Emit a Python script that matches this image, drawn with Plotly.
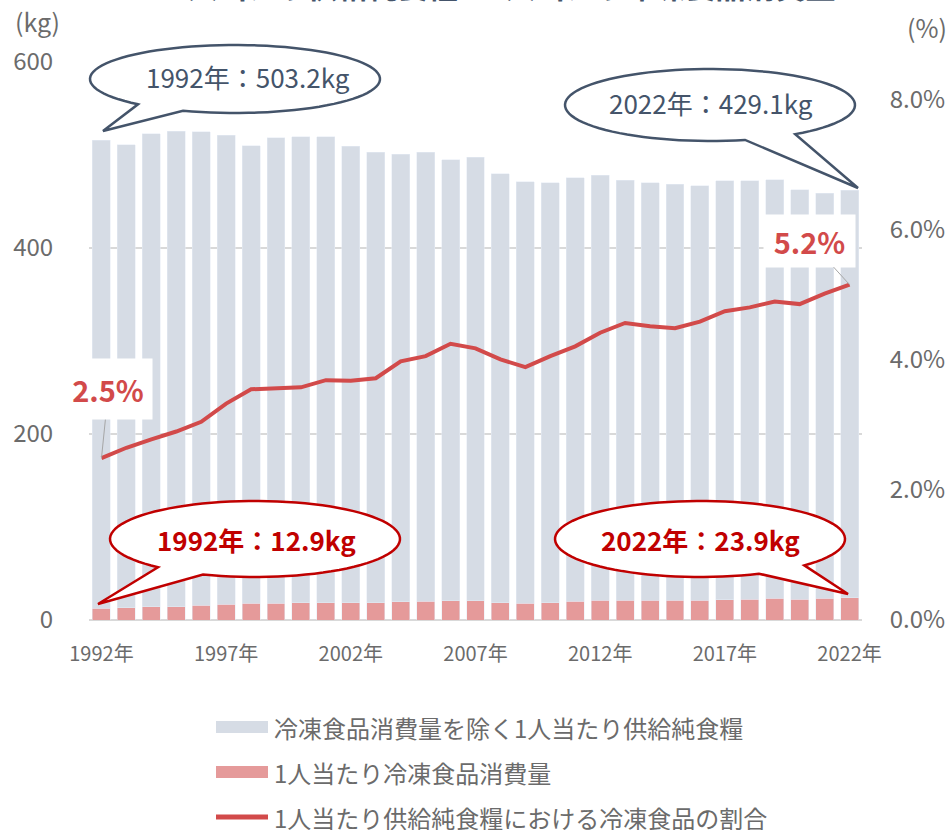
import math
import plotly.graph_objects as go

# data
years = list(range(1992, 2023))
year_labels = [f"{y}年" for y in years]
net_food_ex_frozen = [503.2, 497.7, 508.4, 511.0, 509.5, 504.1, 492.2, 500.4, 501.2, 500.9,
                      490.8, 484.7, 481.1, 483.0, 474.3, 476.8, 461.1, 453.1, 451.5, 455.4,
                      457.1, 452.1, 448.9, 447.8, 445.7, 450.4, 450.0, 450.3, 440.3, 435.6, 438.1]
frozen_food = [12.9, 13.1, 14.2, 14.5, 15.6, 17.1, 17.8, 18.2, 18.5, 18.5,
               18.5, 18.5, 19.6, 19.9, 20.7, 20.7, 18.8, 18.2, 18.8, 19.9,
               21.0, 21.0, 21.0, 21.0, 21.0, 21.7, 22.4, 23.2, 22.4, 23.2, 23.9]
frozen_share = [2.49, 2.65, 2.78, 2.90, 3.05, 3.33, 3.55, 3.56, 3.58, 3.69,
                3.68, 3.72, 3.98, 4.06, 4.25, 4.18, 4.01, 3.89, 4.06, 4.21,
                4.42, 4.57, 4.52, 4.49, 4.59, 4.75, 4.81, 4.90, 4.86, 5.02, 5.16]
tick_years = ["1992年", "1997年", "2002年", "2007年", "2012年", "2017年", "2022年"]

legend_names = ["冷凍食品消費量を除く1人当たり供給純食糧",
                "1人当たり冷凍食品消費量",
                "1人当たり供給純食糧における冷凍食品の割合"]

GREY = "#D6DCE5"
PINK = "#E59A9A"
RED = "#D24A4A"
DARKRED = "#C00000"
SLATE = "#44546A"
TICK = "#6B6B6B"
FONT = "Noto Sans CJK JP"

W, H = 951, 830
L, R, T, B = 89, 89, 62, 210
PW, PH = W - L - R, H - T - B


def px(x):
    return (x - L) / PW


def py(y):
    return (H - B - y) / PH


fig = go.Figure()

fig.add_trace(go.Bar(x=year_labels, y=frozen_food, name=legend_names[1],
                     marker_color=PINK, showlegend=False))
fig.add_trace(go.Bar(x=year_labels, y=net_food_ex_frozen, name=legend_names[0],
                     marker_color=GREY, showlegend=False))
fig.add_trace(go.Scatter(x=year_labels, y=frozen_share, name=legend_names[2], yaxis="y2",
                         mode="lines", line=dict(color=RED, width=4), showlegend=False))


# speech bubbles (ellipse with a tail), drawn in pixel space
def bubble(cx, cy, rx, ry, a1, a2, tip, color):
    pts = []
    n = 90
    for k in range(n + 1):
        t = math.radians(a2 + (a1 + 360 - a2) * k / n)
        pts.append((cx + rx * math.cos(t), cy + ry * math.sin(t)))
    pts.append(tip)
    d = "M " + " L ".join(f"{px(x):.5f},{py(y):.5f}" for x, y in pts) + " Z"
    fig.add_shape(type="path", path=d, xref="paper", yref="paper",
                  fillcolor="white", line=dict(color=color, width=2.5), layer="above")


def note(x, y, text, size, color, xanchor="center"):
    fig.add_annotation(x=px(x), y=py(y), xref="paper", yref="paper", showarrow=False,
                       xanchor=xanchor, yanchor="middle", text=text,
                       font=dict(family=FONT, size=size, color=color))


bubble(235, 79, 145, 34, 111, 132, (103, 131), SLATE)
bubble(710, 105, 145, 36, 54, 76, (858, 188), SLATE)
bubble(255, 539, 145, 38, 111, 132, (98, 604), DARKRED)
bubble(700, 539, 145, 38, 44, 66, (848, 594), DARKRED)

note(248, 76, "1992年：503.2kg", 26, SLATE)
note(711, 103, "2022年：429.1kg", 26, SLATE)
note(256, 539, "<b>1992年：12.9kg</b>", 26, DARKRED)
note(700, 539, "<b>2022年：23.9kg</b>", 26, DARKRED)

# data labels for first / last share
fig.add_annotation(x=year_labels[0], y=frozen_share[0], yref="y2", text="<b>2.5%</b>",
                   showarrow=True, arrowhead=0, arrowwidth=1, arrowcolor="#A6A6A6",
                   ax=7, ay=-69, bgcolor="white", width=86, height=58,
                   font=dict(family=FONT, size=29, color=RED))
fig.add_annotation(x=year_labels[-1], y=frozen_share[-1], yref="y2", text="<b>5.2%</b>",
                   showarrow=True, arrowhead=0, arrowwidth=1, arrowcolor="#A6A6A6",
                   ax=-40, ay=-44, bgcolor="white", width=89, height=50,
                   font=dict(family=FONT, size=29, color=RED))

# cut-off title at the very top
note(502, -15, "<b>1人当たり供給純食糧と1人当たり冷凍食品消費量</b>", 30, SLATE)

# axis unit labels
note(37, 21, "(kg)", 25, TICK)
note(927, 27, "(%)", 25, TICK)

# manual legend
legend_rows = [727, 772, 817]
for i, (name, yy) in enumerate(zip(legend_names, legend_rows)):
    if i < 2:
        fig.add_shape(type="rect", xref="paper", yref="paper",
                      x0=px(216), x1=px(268), y0=py(yy - 6), y1=py(yy + 6),
                      fillcolor=GREY if i == 0 else PINK, line_width=0)
    else:
        fig.add_shape(type="line", xref="paper", yref="paper",
                      x0=px(216), x1=px(268), y0=py(yy), y1=py(yy),
                      line=dict(color=RED, width=5))
    note(272, yy, name, 24, TICK, xanchor="left")

fig.update_layout(
    width=W, height=H, autosize=False,
    margin=dict(l=L, r=R, t=T, b=B, autoexpand=False),
    barmode="stack", bargap=0.28,
    plot_bgcolor="white", paper_bgcolor="white",
    font=dict(family=FONT, color=TICK),
    xaxis=dict(type="category", range=[-0.5, len(years) - 0.5], tickvals=tick_years,
               ticks="outside", ticklen=16,
               tickcolor="rgba(0,0,0,0)", tickfont=dict(size=20, color=TICK),
               showgrid=False, showline=False),
    yaxis=dict(range=[0, 600], dtick=200, showgrid=True, gridcolor="#D9D9D9", gridwidth=1.5,
               zeroline=True, zerolinecolor="#D9D9D9", zerolinewidth=2,
               ticks="outside", ticklen=30, tickcolor="rgba(0,0,0,0)",
               tickfont=dict(size=24, color=TICK)),
    yaxis2=dict(range=[0, 8.585], overlaying="y", side="right",
                tickvals=[0, 2, 4, 6, 8], ticktext=["0.0%", "2.0%", "4.0%", "6.0%", "8.0%"],
                showgrid=False, zeroline=False, ticks="outside", ticklen=22,
                tickcolor="rgba(0,0,0,0)", tickfont=dict(size=24, color=TICK)),
)

# drop the browser's default page margin so the 951x830 figure fits the window
fig.write_html("out.html", config={"displayModeBar": False},
               post_script="document.body.style.margin='0px';")
